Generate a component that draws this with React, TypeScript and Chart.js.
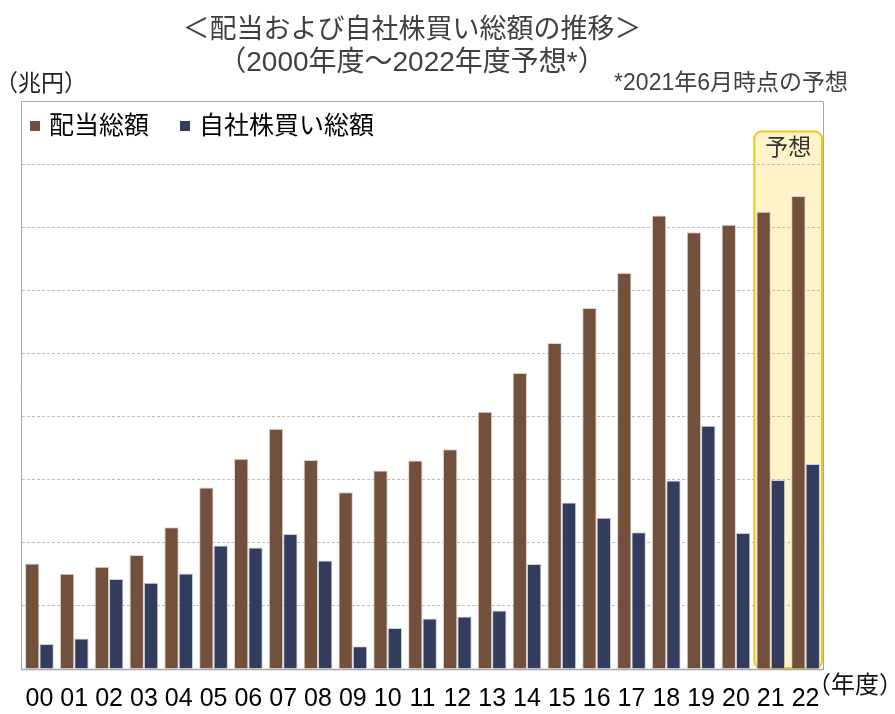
import React, { useEffect, useRef } from "react";
import { Chart, registerables } from "chart.js";

Chart.register(...registerables);

// ---- data (兆円) ----
const categories = ["00","01","02","03","04","05","06","07","08","09","10","11","12","13","14","15","16","17","18","19","20","21","22"];
const dividends = [3.34,3.02,3.24,3.61,4.49,5.75,6.66,7.61,6.62,5.6,6.29,6.61,6.96,8.15,9.38,10.33,11.44,12.55,14.37,13.84,14.08,14.49,14.99];
const buybacks = [0.79,0.97,2.85,2.73,3.03,3.91,3.85,4.28,3.44,0.72,1.3,1.6,1.66,1.85,3.33,5.28,4.79,4.33,5.97,7.71,4.31,5.99,6.5];
const seriesLabels = ["配当総額", "自社株買い総額"];
const seriesColors = ["#73503B", "#323C5C"];
const titleLines = ["＜配当および自社株買い総額の推移＞", "（2000年度～2022年度予想*）"];
const unitLabel = "（兆円）";
const noteLabel = "*2021年6月時点の予想";
const xUnitLabel = "（年度）";
const forecastLabel = "予想";
const forecastStartIndex = 21;
const forecastBoxTop = 17.03;
const yMax = 18;
const yStep = 2;

const FONT = "'Liberation Sans', 'Noto Sans CJK JP', sans-serif";

const decorPlugin = {
  id: "decor",
  beforeDraw(chart: any) {
    const { ctx, chartArea, scales } = chart;
    const x = scales.x;
    const y = scales.y;
    const left = x.getPixelForValue(forecastStartIndex - 0.5);
    const right = x.getPixelForValue(categories.length - 0.5);
    const top = y.getPixelForValue(forecastBoxTop);
    const bottom = chartArea.bottom - 1;
    ctx.save();
    ctx.beginPath();
    ctx.roundRect(left + 1, top, right - left - 2, bottom - top, 7);
    ctx.fillStyle = "#FFF3C9";
    ctx.fill();
    ctx.lineWidth = 2;
    ctx.strokeStyle = "#F5C518";
    ctx.stroke();
    ctx.fillStyle = "#333333";
    ctx.font = `23px ${FONT}`;
    ctx.textAlign = "center";
    ctx.textBaseline = "middle";
    ctx.fillText(forecastLabel, (left + right) / 2, top + 17);
    ctx.restore();
  },
  afterDatasetsDraw(chart: any) {
    const { ctx, chartArea } = chart;
    ctx.save();
    ctx.strokeStyle = "#A6A6A6";
    ctx.lineWidth = 1;
    ctx.beginPath();
    ctx.moveTo(chartArea.left - 0.5, chartArea.bottom);
    ctx.lineTo(chartArea.left - 0.5, chartArea.top + 0.5);
    ctx.lineTo(chartArea.right + 0.5, chartArea.top + 0.5);
    ctx.lineTo(chartArea.right + 0.5, chartArea.bottom);
    ctx.stroke();
    ctx.lineWidth = 1.5;
    ctx.beginPath();
    ctx.moveTo(chartArea.left - 1, chartArea.bottom + 0.5);
    ctx.lineTo(chartArea.right + 1, chartArea.bottom + 0.5);
    ctx.stroke();
    ctx.restore();
  },
  afterDraw(chart: any) {
    const { ctx } = chart;
    ctx.save();
    ctx.textBaseline = "middle";
    // title
    ctx.fillStyle = "#404040";
    ctx.font = `27px ${FONT}`;
    ctx.textAlign = "center";
    ctx.fillText(titleLines[0], 412, 31);
    ctx.font = `28px ${FONT}`;
    ctx.fillText(titleLines[1], 412, 63);
    // unit
    ctx.textAlign = "left";
    ctx.font = `23px ${FONT}`;
    ctx.fillStyle = "#222222";
    ctx.fillText(unitLabel, -5, 85);
    // note
    ctx.textAlign = "right";
    ctx.fillStyle = "#404040";
    ctx.font = `23px ${FONT}`;
    ctx.fillText(noteLabel, 848, 84);
    // x unit
    ctx.textAlign = "left";
    ctx.fillStyle = "#111111";
    ctx.font = `24px ${FONT}`;
    ctx.fillText(xUnitLabel, 807, 686);
    // legend
    let lx = 30;
    ctx.font = `25px ${FONT}`;
    chart.data.datasets.forEach((ds: any) => {
      ctx.fillStyle = ds.backgroundColor;
      ctx.fillRect(lx, 121, 10, 10);
      ctx.fillStyle = "#000000";
      ctx.fillText(ds.label, lx + 19, 127);
      lx += 19 + ctx.measureText(ds.label).width + 31;
    });
    ctx.restore();
  },
};

export default function App() {
  const canvasRef = useRef<HTMLCanvasElement | null>(null);

  useEffect(() => {
    document.body.style.margin = "0";
    const canvas = canvasRef.current;
    if (!canvas) return;
    const chart = new Chart(canvas, {
      type: "bar",
      data: {
        labels: categories,
        datasets: [
          {
            label: seriesLabels[0],
            data: dividends,
            backgroundColor: seriesColors[0],
            borderColor: "rgba(215,205,198,0.9)",
            borderWidth: { top: 1, left: 1, right: 1, bottom: 0 },
          },
          {
            label: seriesLabels[1],
            data: buybacks,
            backgroundColor: seriesColors[1],
            borderColor: "rgba(200,204,215,0.9)",
            borderWidth: { top: 1, left: 1, right: 1, bottom: 0 },
          },
        ],
      },
      options: {
        responsive: false,
        animation: false,
        layout: { padding: { left: 22, right: 72, top: 101, bottom: 0 } },
        plugins: {
          legend: { display: false },
          title: { display: false },
          tooltip: { enabled: false },
        },
        scales: {
          x: {
            grid: { display: false, drawTicks: false },
            border: { display: false },
            ticks: {
              color: "#000000",
              font: { family: FONT, size: 25 },
              padding: 15,
              maxRotation: 0,
              autoSkip: false,
            },
            afterFit: (s: any) => {
              s.height = 45;
            },
          },
          y: {
            min: 0,
            max: yMax,
            ticks: { display: false, stepSize: yStep },
            grid: { color: "#BDBDBD", lineWidth: 1, drawTicks: false },
            border: { display: false, dash: [3, 2] },
            afterFit: (s: any) => {
              s.width = 0;
            },
          },
        },
        datasets: {
          bar: { barPercentage: 1, categoryPercentage: 0.825 },
        },
      } as any,
      plugins: [decorPlugin],
    });
    return () => chart.destroy();
  }, []);

  return (
    <div style={{ width: 895, height: 714 }}>
      <canvas ref={canvasRef} width={895} height={714} style={{ display: "block" }} />
    </div>
  );
}
